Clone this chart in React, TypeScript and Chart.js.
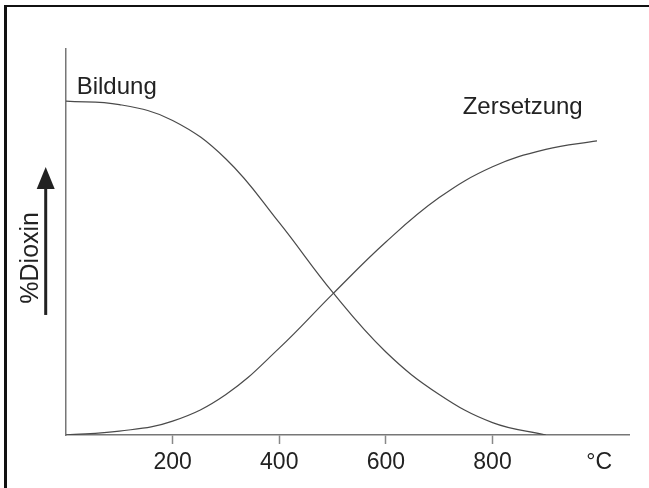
import React, { useEffect, useRef } from "react";
import { Chart, registerables } from "chart.js";

Chart.register(...registerables);

// ---- data ----
const bildungT = [0, 100, 200, 300, 400, 500, 600, 700, 800, 900];
const bildungV = [86.5, 85.6, 81.5, 71.5, 55, 37, 21.5, 10.5, 3.2, 0];
const zersetzungT = [0, 100, 200, 300, 400, 500, 600, 700, 800, 900, 996];
const zersetzungV = [0, 1, 3.6, 10.5, 22.5, 36.5, 50, 61.5, 69.5, 74, 76.2];
const xTickValues = [200, 400, 600, 800];
const unitTickValue = 1000;
const unitLabel = "°C";
const seriesNames = ["Bildung", "Zersetzung"];
const seriesLabelAnchors = [
  [20, 88.3],
  [744, 83.2],
];
const yTitle = "%Dioxin";

const FONT = '"Liberation Sans", Arial, Helvetica, sans-serif';

export default function App() {
  const ref = useRef<HTMLCanvasElement | null>(null);

  useEffect(() => {
    document.body.style.margin = "0";
    const canvas = ref.current;
    if (!canvas) return;

    const annot = {
      id: "annot",
      afterDraw(chart: any) {
        const { ctx, chartArea, scales } = chart;
        const xs = scales.x;
        const ys = scales.y;
        ctx.save();
        ctx.fillStyle = "#222";
        ctx.font = `24px ${FONT}`;
        ctx.textAlign = "left";
        ctx.textBaseline = "alphabetic";
        seriesNames.forEach((n, i) => {
          const [t, v] = seriesLabelAnchors[i];
          ctx.fillText(n, xs.getPixelForValue(t), ys.getPixelForValue(v));
        });

        // y title (rotated) and arrow
        const h = chartArea.bottom - chartArea.top;
        const tx = chartArea.left - 28;
        const ty = chartArea.top + h * 0.541;
        ctx.save();
        ctx.translate(tx, ty);
        ctx.rotate(-Math.PI / 2);
        ctx.textAlign = "center";
        ctx.font = `25px ${FONT}`;
        ctx.fillText(yTitle, 0, 0);
        ctx.restore();

        const ax = chartArea.left - 20.3;
        const yBottom = chartArea.top + h * 0.689;
        const yTip = chartArea.top + h * 0.306;
        const headLen = 22;
        ctx.strokeStyle = "#222";
        ctx.lineWidth = 3;
        ctx.beginPath();
        ctx.moveTo(ax, yBottom);
        ctx.lineTo(ax, yTip + headLen - 2);
        ctx.stroke();
        ctx.beginPath();
        ctx.moveTo(ax, yTip);
        ctx.lineTo(ax - 9, yTip + headLen);
        ctx.lineTo(ax + 9, yTip + headLen);
        ctx.closePath();
        ctx.fill();
        ctx.restore();
      },
    };

    const chart = new Chart(canvas, {
      type: "line",
      data: {
        datasets: [
          {
            label: seriesNames[0],
            data: bildungT.map((t, i) => ({ x: t, y: bildungV[i] })),
            borderColor: "#4a4a4a",
            borderWidth: 1.2,
            pointRadius: 0,
            tension: 0.4,
            fill: false,
          },
          {
            label: seriesNames[1],
            data: zersetzungT.map((t, i) => ({ x: t, y: zersetzungV[i] })),
            borderColor: "#4a4a4a",
            borderWidth: 1.2,
            pointRadius: 0,
            tension: 0.4,
            fill: false,
          },
        ],
      },
      options: {
        animation: false,
        responsive: false,
        devicePixelRatio: 1,
        layout: { padding: { left: 0, right: 20, top: 49, bottom: 0 } },
        plugins: { legend: { display: false }, tooltip: { enabled: false } },
        scales: {
          x: {
            type: "linear",
            min: 0,
            max: 1056,
            afterBuildTicks: (s: any) => {
              s.ticks = [0, ...xTickValues, unitTickValue].map((v) => ({ value: v }));
            },
            afterFit: (s: any) => {
              s.height = 53;
            },
            ticks: {
              autoSkip: false,
              maxRotation: 0,
              padding: 5,
              color: "#222",
              font: { family: FONT, size: 23 },
              callback: (v: any) =>
                v === unitTickValue ? unitLabel : xTickValues.includes(v) ? String(v) : "",
            },
            grid: {
              display: true,
              drawOnChartArea: false,
              drawTicks: true,
              tickLength: 9,
              color: "transparent",
              tickColor: (c: any) =>
                c.tick && xTickValues.includes(c.tick.value) ? "#888" : "transparent",
              tickWidth: 1.5,
            },
            border: { display: true, color: "#777", width: 1.5 },
          },
          y: {
            type: "linear",
            min: 0,
            max: 100,
            afterFit: (s: any) => {
              s.width = 66;
            },
            ticks: { display: false },
            grid: { display: true, drawOnChartArea: false, drawTicks: false, color: "transparent" },
            border: { display: true, color: "#777", width: 1.5 },
          },
        },
      },
      plugins: [annot],
    } as any);

    return () => chart.destroy();
  }, []);

  return (
    <div style={{ position: "relative", width: 649, height: 488, background: "#fff" }}>
      <canvas ref={ref} width={649} height={488} style={{ display: "block" }} />
      <div style={{ position: "absolute", left: 4, top: 5, width: 3, height: 483, background: "#111" }} />
      <div style={{ position: "absolute", left: 4, top: 5, width: 645, height: 2, background: "#111" }} />
    </div>
  );
}
